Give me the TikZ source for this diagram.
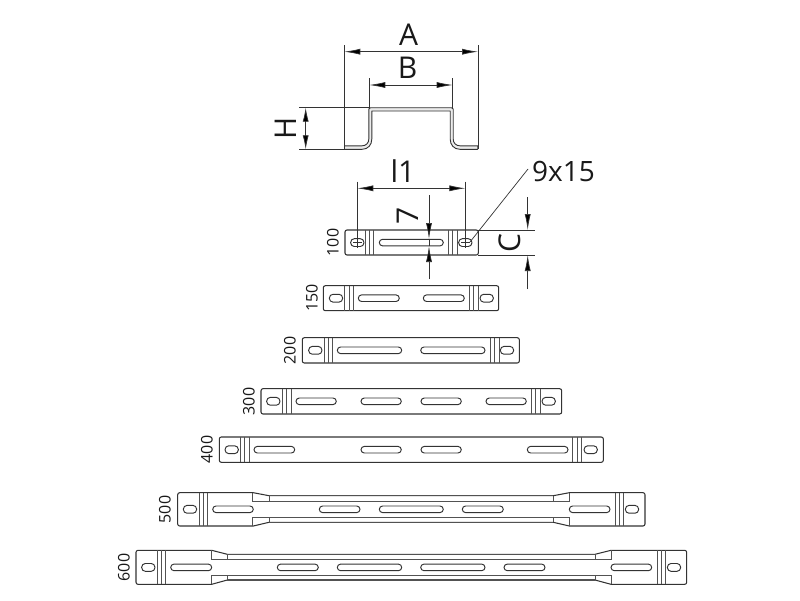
\documentclass[tikz,border=0pt]{standalone}
\usepackage{fontspec}
\setmainfont{Open Sans}
\usetikzlibrary{arrows.meta}
\definecolor{ink}{gray}{0.2}
\tikzset{
  outline/.style={draw=ink,line width=1.05pt,rounded corners=2pt},
  rib/.style={draw=ink!85,line width=0.8pt},
  slot/.style={draw=ink,line width=0.95pt,rounded corners=3.3pt},
  extline/.style={draw=ink,line width=0.7pt},
  dimline/.style={draw=ink,line width=0.7pt,{Latex[length=16pt,width=6pt,fill=black]}-{Latex[length=16pt,width=6pt,fill=black]}},
  arrowonly/.style={draw=ink,line width=0.7pt,-{Latex[length=16pt,width=6pt,fill=black]}},
  biglabel/.style={font=\fontsize{30}{30}\selectfont,text=black!90,inner sep=0pt},
  sizelabel/.style={font=\fontsize{16}{16}\selectfont,text=black!90,inner sep=0pt,rotate=90},
  sheet/.style={draw=ink,line width=0.9pt,fill=black!8}
}
\newcommand{\stripbody}[4]{\draw[outline] (#1,#3) rectangle (#2,#4);}
\newcommand{\ribset}[3]{\foreach \rx in {#1} {\draw[rib] (\rx,#2) -- (\rx,#3);}}
\newcommand{\slotset}[2]{\foreach \sa/\sb in {#1} {\draw[slot] (\sa,#2-3.3) rectangle (\sb,#2+3.3);}}
\newcommand{\holeset}[2]{\foreach \hx in {#1} {\draw[slot,rounded corners=3.6pt] (\hx-6.6,#2-3.9) rectangle (\hx+6.6,#2+3.9);}}
\begin{document}
\begin{tikzpicture}[x=1pt,y=-1pt]
\useasboundingbox (0,0) rectangle (800,600);
\fill[white] (0,0) rectangle (800,600);

% ---- channel profile
\coordinate (aL) at (344.3,51.7);
\coordinate (aR) at (478,51.7);
\coordinate (bL) at (369.3,85);
\coordinate (bR) at (452.7,85);
\coordinate (hT) at (305.7,107.7);
\coordinate (hB) at (305.7,149.3);
\draw[sheet,line join=round] (344.5,145.8) -- (362,145.8) .. controls (366,145.8) and (368.8,143) .. (368.8,139)
  -- (368.8,109) .. controls (368.8,108) and (369.5,107.7) .. (370.5,107.7)
  -- (451.5,107.7) .. controls (452.5,107.7) and (453.2,108) .. (453.2,109)
  -- (453.2,139) .. controls (453.2,143) and (456,145.8) .. (460,145.8)
  -- (477.7,145.8) -- (477.7,149.3) -- (460,149.3)
  .. controls (454,149.3) and (450.2,145) .. (450.2,139) -- (450.2,111) -- (371.8,111) -- (371.8,139)
  .. controls (371.8,145) and (368,149.3) .. (362,149.3) -- (344.5,149.3) -- cycle;
\draw[extline] (aL |- 0,45) -- (344.3,149);
\draw[extline] (aR |- 0,45) -- (478,149);
\draw[extline] (bL |- 0,78) -- (369.3,108);
\draw[extline] (bR |- 0,78) -- (452.7,108);
\draw[extline] (299,107.7) -- (369,107.7);
\draw[extline] (299,149.3) -- (344.5,149.3);
\draw[dimline] (aL) -- (aR);
\draw[dimline] (bL) -- (bR);
\draw[dimline,{Latex[length=14pt,width=6pt,fill=black]}-{Latex[length=14pt,width=6pt,fill=black]}] (hT) -- (hB);
\node[biglabel] (lblA) at (408.5,34.5) {A};
\node[biglabel] (lblB) at (407.5,67.5) {B};
\node[biglabel,rotate=90] (lblH) at (286,128.5) {H};

% ---- strip 100
\stripbody{345}{478.3}{230}{255}
\ribset{365,369.3,373.3,448.3,452.7,457}{230}{255}
\slotset{379.3/443.3}{242.6}
\holeset{357.3,465.3}{242.6}
\draw[extline,line width=0.45pt] (353,242.6) -- (361.5,242.6) (461,242.6) -- (469.5,242.6);
\coordinate (iL) at (357.3,188.3);
\coordinate (iR) at (465.3,188.3);
\draw[extline] (357.3,181.7) -- (357.3,248);
\draw[extline] (465.3,181.7) -- (465.3,248);
\draw[dimline] (iL) -- (iR);
\node[biglabel] (lblI) at (403,171) {l1};
\coordinate (sT) at (429,239);
\coordinate (sB) at (429,246);
\coordinate (sTop) at (429,195);
\coordinate (sBot) at (429,279);
\draw[arrowonly] (sTop) -- (sT);
\draw[arrowonly] (sBot) -- (sB);
\draw[extline] (sT) -- (sB);
\node[biglabel,rotate=90] (lbl7) at (408,216) {7};
\coordinate (cT) at (527.7,230);
\coordinate (cB) at (527.7,255);
\coordinate (cTop) at (527.7,197);
\coordinate (cBot) at (527.7,289);
\draw[extline] (478,230) -- (535,230);
\draw[extline] (478,255) -- (535,255);
\draw[arrowonly] (cTop) -- (cT);
\draw[arrowonly] (cBot) -- (cB);
\node[biglabel,rotate=90] (lblC) at (510,243) {C};
\coordinate (lead) at (470,242);
\coordinate (leadEnd) at (528,169);
\draw[extline] (lead) -- (leadEnd);
\node[biglabel,anchor=west,font=\fontsize{28}{28}\selectfont] (lblHole) at (532,171) {9x15};
\node[sizelabel] (s100) at (333,242.5) {100};

% ---- strip 150
\stripbody{323.3}{498.7}{285.7}{310.7}
\ribset{344.3,349,353.3,469.3,473.7,478}{285.7}{310.7}
\slotset{358.3/399.3,423.3/464.3}{298.2}
\holeset{336,486.7}{298.2}
\node[sizelabel] (s150) at (312,298) {150};

% ---- strip 200
\stripbody{302.3}{519.3}{337.7}{363}
\ribset{324,328.3,332.7,490,494.3,499}{337.7}{363}
\slotset{337.3/401.7,420.7/485}{350.3}
\holeset{315.3,507}{350.3}
\node[sizelabel] (s200) at (290,350.5) {200};

% ---- strip 300
\stripbody{261}{561.7}{388.7}{414}
\ribset{282.3,286.7,291.3,531.3,535.7,540.3}{388.7}{414}
\slotset{296/336.3,361/401.3,421/461.3,486/526.3}{401.3}
\holeset{273.3,548.7}{401.3}
\node[sizelabel] (s300) at (249,401.5) {300};

% ---- strip 400
\stripbody{219.3}{603.3}{437}{462.3}
\ribset{240.3,244.7,249.3,572.3,577,581.3}{437}{462.3}
\slotset{254/294.7,361/401.3,421/461.3,527.3/568}{449.7}
\holeset{231.7,590.7}{449.7}
\node[sizelabel] (s400) at (207,449.5) {400};

% ---- strip 500
\draw[outline,line join=round,rounded corners=0pt]
  (253.3,526) -- (269,522.3) -- (553.3,522.3) -- (569.3,526)
  [rounded corners=2pt] -- (645,526) -- (645,492.7) [rounded corners=0pt] -- (569.3,492.7) -- (553.3,495.7)
  -- (269,495.7) -- (253.3,492.7) [rounded corners=2pt] -- (177.7,492.7) -- (177.7,526) [rounded corners=0pt] -- cycle;
\draw[rib,line width=1.05pt] (269,495.7) -- (553.3,495.7) (269,522.3) -- (553.3,522.3);
\draw[rib] (252.7,492.7) -- (252.7,501.2) -- (569.3,501.2) -- (569.3,492.7);
\draw[rib] (252.7,526) -- (252.7,517.4) -- (569.3,517.4) -- (569.3,526);
\draw[rib] (269,495.7) -- (269,501.2) (553.3,495.7) -- (553.3,501.2) (269,522.3) -- (269,517.4) (553.3,522.3) -- (553.3,517.4);
\ribset{199,203,207.3,615,619.3,623.7}{492.7}{526}
\slotset{212.7/253.3,319.3/360,379.3/443.3,462.3/503.3,569.3/610}{509.3}
\holeset{190,632}{509.3}
\node[sizelabel] (s500) at (165,509.5) {500};

% ---- strip 600
\draw[outline,line join=round,rounded corners=0pt]
  (211.7,584.3) -- (227.3,580) -- (595,580) -- (611,584.3)
  [rounded corners=2pt] -- (686.7,584.3) -- (686.7,550.3) [rounded corners=0pt] -- (611,550.3) -- (595,554.3)
  -- (227.3,554.3) -- (211.7,550.3) [rounded corners=2pt] -- (136,550.3) -- (136,584.3) [rounded corners=0pt] -- cycle;
\draw[rib,line width=1.05pt] (227.3,554.3) -- (595,554.3) (227.3,580) -- (595,580);
\draw[rib] (211.7,550.3) -- (211.7,559.3) -- (611,559.3) -- (611,550.3);
\draw[rib] (211.7,584.3) -- (211.7,575.7) -- (611,575.7) -- (611,584.3);
\draw[rib] (227.3,554.3) -- (227.3,559.3) (595,554.3) -- (595,559.3) (227.3,580) -- (227.3,575.7) (595,580) -- (595,575.7);
\ribset{157,161,165.3,657,661.3,665.7}{550.3}{584.3}
\slotset{170.7/211.7,277.3/318.3,337.3/401.7,420.7/485,504/545,611/651.7}{567.4}
\holeset{148.3,674}{567.4}
\node[sizelabel] (s600) at (124,567.5) {600};
\end{tikzpicture}
\end{document}
